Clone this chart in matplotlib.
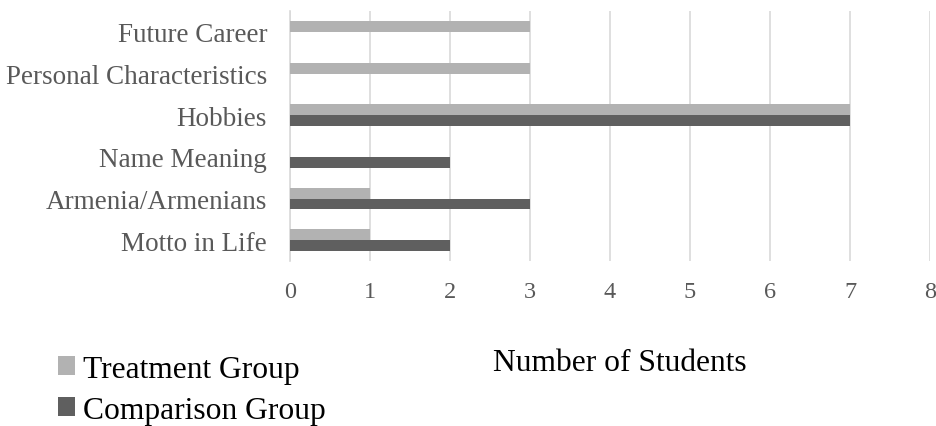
import matplotlib.pyplot as plt
import numpy as np

categories = ["Future Career", "Personal Characteristics", "Hobbies",
              "Name Meaning", "Armenia/Armenians", "Motto in Life"]
treatment = [3, 3, 7, 0, 1, 1]
comparison = [0, 0, 7, 2, 3, 2]
x_ticks = [0, 1, 2, 3, 4, 5, 6, 7, 8]

fig = plt.figure(figsize=(9.36, 4.27), dpi=100)
ax = fig.add_axes([290 / 936, 1 - 262 / 427, 640 / 936, 250 / 427])

y = np.arange(len(categories))
h = 0.26
c_treat = "#b2b2b2"
c_comp = "#5f5f5f"
ax.barh(y - h / 2, treatment, height=h, color=c_treat, label="Treatment Group", zorder=3)
ax.barh(y + h / 2, comparison, height=h, color=c_comp, label="Comparison Group", zorder=3)

ax.set_ylim(len(categories) - 0.5, -0.5)
ax.set_xlim(0, 8)
ax.set_xticks(x_ticks)
ax.set_yticks(y)
ax.set_yticklabels(categories)
ax.xaxis.grid(True, color="#d9d9d9", linewidth=1.2, zorder=0)
ax.set_axisbelow(True)
for s in ["top", "right", "bottom"]:
    ax.spines[s].set_visible(False)
ax.spines["left"].set_color("#d9d9d9")
ax.spines["left"].set_linewidth(1.2)
ax.tick_params(axis="both", length=0)
ax.tick_params(axis="y", pad=16.5, labelsize=19.5, labelcolor="#595959")
ax.tick_params(axis="x", pad=14.5, labelsize=17.5, labelcolor="#595959")
for lbl in ax.get_yticklabels() + ax.get_xticklabels():
    lbl.set_fontfamily("Liberation Serif")

fig.text(620 / 936, 1 - 364 / 427, "Number of Students", ha="center", va="center",
         fontsize=22.7, family="Liberation Serif", color="black")

handles, labels = ax.get_legend_handles_labels()
fig.legend(handles, labels, loc="upper left", bbox_to_anchor=(58 / 936, 1 - 356 / 427),
           frameon=False, prop={"family": "Liberation Serif", "size": 22.7},
           handlelength=0.55, handleheight=0.55, handletextpad=0.25, labelspacing=0.37,
           borderpad=0, borderaxespad=0)

fig.savefig("out.png", dpi=100)
